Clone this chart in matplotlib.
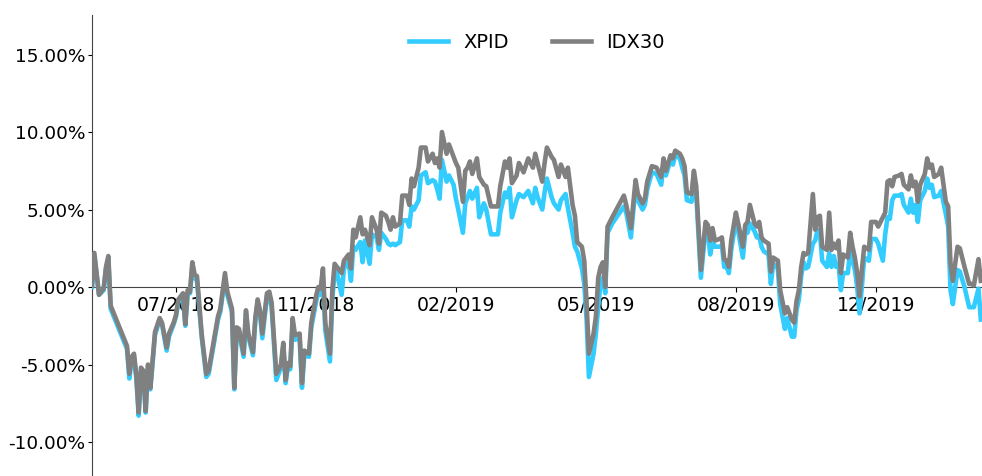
import matplotlib
matplotlib.use("Agg")
import matplotlib.pyplot as plt
from matplotlib.ticker import FuncFormatter

# ---- data (trading-day index, returns in %) ----
days_a = [0, 1, 3, 5, 6, 7, 8, 15, 16, 17, 18, 19, 20, 21, 22, 23, 24, 25, 27, 29, 30, 32, 33, 35, 36, 37,
          39, 40, 41, 42, 43, 44, 45, 47, 49, 50, 54, 55, 57, 58, 60, 61, 62, 63, 65, 66, 67, 69, 70, 71,
          72, 73, 75, 76]
idx_a = [0.1, 2.2, -0.5, -0.1, 1.3, 2.0, -1.2, -3.8, -5.6, -4.5, -4.3, -5.7, -8.1, -5.2, -5.4, -8.0, -5.0,
         -6.5, -2.9, -2.0, -2.3, -3.9, -3.0, -2.3, -1.8, -0.8, -0.4, -2.4, -0.2, -0.3, 1.6, 0.8, 0.7, -3.0,
         -5.6, -5.4, -1.9, -1.4, 0.9, -0.3, -1.4, -6.5, -2.6, -2.7, -4.3, -1.5, -3.0, -4.2, -2.0, -0.8,
         -1.5, -3.0, -0.4, -0.3]
xpid_a = [0.0, 2.0, -0.5, -0.2, 1.2, 1.8, -1.4, -4.0, -5.9, -4.7, -4.5, -5.9, -8.3, -5.4, -5.6, -8.1, -5.2,
          -6.6, -3.1, -2.1, -2.4, -4.1, -3.2, -2.4, -1.9, -1.0, -0.6, -2.5, -0.4, -0.4, 1.3, 0.6, 0.4, -3.2,
          -5.8, -5.6, -2.1, -1.6, 0.6, -0.5, -1.6, -6.6, -2.8, -2.9, -4.5, -1.7, -3.2, -4.4, -2.2, -1.0,
          -1.7, -3.3, -0.6, -0.6]

days_b = [77, 79, 81, 82, 83, 84, 85, 86, 87, 89, 90, 91, 93, 94, 96, 97, 98, 99, 100, 102, 103, 104, 105,
          107, 108, 110, 111, 112, 113, 115, 116, 117, 119, 120, 122, 123, 124, 126, 127, 128, 129, 130, 132]
idx_b = [-1.0, -5.6, -5.0, -3.6, -6.0, -4.9, -5.1, -2.0, -3.1, -3.0, -6.2, -4.1, -4.3, -2.3, -0.6, 0.0,
         -0.1, 1.2, -2.3, -4.3, -0.2, 1.5, 1.3, 0.9, 1.7, 2.1, 1.2, 3.7, 3.2, 4.5, 3.4, 3.7, 2.7, 4.5, 3.7,
         2.8, 4.8, 4.6, 4.2, 3.7, 4.5, 3.9, 4.1]
xpid_b = [-1.3, -6.0, -5.2, -3.8, -6.2, -5.1, -5.3, -2.3, -3.4, -3.3, -6.5, -4.4, -4.5, -2.6, -1.0, -0.3,
          -0.5, 0.6, -2.8, -4.8, -0.8, 1.0, 0.9, -0.5, 1.2, 1.6, 0.4, 2.6, 2.4, 2.9, 1.6, 3.0, 1.5, 3.4,
          3.2, 2.4, 3.5, 3.1, 2.8, 2.7, 2.8, 2.7, 2.9]

days_c = [133, 135, 136, 137, 138, 140, 141, 143, 144, 146, 147, 148, 149, 150, 152, 153, 155, 156, 157,
          159, 160, 161, 162, 163, 165, 166, 168, 169, 171, 174, 175, 177, 178, 179, 180, 182, 183, 185,
          187, 189, 190, 191, 193, 194, 195, 197, 198, 200, 201, 203, 204, 206, 207, 208, 210, 211, 212,
          213, 215, 216, 217, 218, 219, 220, 221, 223, 228]
idx_c = [5.9, 5.9, 5.3, 7.0, 6.5, 7.7, 9.0, 9.0, 8.1, 8.6, 8.0, 8.3, 7.7, 10.0, 8.6, 9.2, 8.4, 8.0, 7.7,
         5.5, 7.5, 7.7, 8.1, 7.3, 8.3, 7.1, 6.6, 6.5, 5.2, 5.2, 6.5, 8.1, 7.7, 8.3, 6.7, 7.2, 8.0, 7.4,
         8.3, 7.7, 8.6, 8.0, 6.8, 8.0, 9.0, 8.4, 8.2, 7.1, 7.9, 7.1, 7.7, 5.3, 4.6, 2.9, 2.6, 1.7, -1.0,
         -4.3, -3.0, -1.9, 0.6, 1.3, 1.6, 0.0, 3.9, 4.5, 5.9]
xpid_c = [4.3, 4.3, 3.9, 5.2, 5.0, 5.6, 7.2, 7.4, 6.7, 6.9, 6.8, 6.3, 5.7, 8.2, 6.8, 7.2, 6.6, 5.7, 5.0,
          3.5, 5.4, 5.8, 6.2, 5.7, 6.4, 4.5, 5.4, 5.0, 3.4, 3.4, 4.8, 6.1, 5.8, 6.4, 4.5, 5.6, 6.0, 5.8,
          6.2, 5.4, 6.4, 5.8, 5.0, 6.1, 7.0, 5.8, 5.4, 5.0, 5.6, 6.0, 5.1, 3.5, 2.6, 2.3, 1.2, 0.2, -2.1,
          -5.8, -4.3, -3.0, -1.3, 0.3, 0.6, -0.4, 3.5, 4.1, 5.2]

days_d = [229, 231, 233, 234, 236, 237, 238, 240, 242, 244, 245, 246, 248, 249, 250, 252, 253, 254, 255,
          257, 258, 259, 261, 263, 264, 265, 266, 267, 269, 270, 271, 272, 273, 274, 276, 277, 279, 280,
          281, 282, 284, 285, 286, 287, 288, 290, 291, 292, 294, 295, 297, 298, 300, 301, 302, 303, 304,
          305]
idx_d = [5.3, 3.8, 6.9, 6.0, 5.4, 5.7, 6.8, 7.8, 7.7, 7.1, 8.3, 7.5, 8.5, 8.3, 8.8, 8.6, 8.3, 7.8, 6.1,
         6.0, 7.5, 6.5, 1.1, 4.2, 4.0, 3.0, 3.8, 3.0, 3.1, 3.2, 1.8, 1.7, 1.3, 3.0, 4.8, 4.1, 2.6, 4.0,
         4.2, 5.3, 4.1, 3.9, 4.2, 3.2, 3.0, 2.8, 1.0, 1.9, 1.7, -0.2, -1.7, -1.3, -2.1, -2.3, -0.9, -0.2,
         1.3, 2.2]
xpid_d = [4.8, 3.2, 6.5, 5.6, 5.0, 5.3, 6.3, 7.4, 7.3, 6.6, 8.0, 7.2, 8.2, 7.9, 8.5, 8.3, 7.7, 7.2, 5.6,
          5.5, 7.3, 6.0, 0.6, 3.8, 3.6, 2.1, 3.0, 2.6, 2.6, 2.7, 1.3, 1.3, 0.9, 2.4, 4.3, 3.6, 1.9, 3.5,
          3.5, 4.1, 3.6, 3.2, 3.3, 2.6, 2.3, 2.1, 0.2, 1.5, 1.2, -1.1, -2.7, -2.0, -3.2, -3.2, -1.5, -0.8,
          0.7, 1.6]

days_e = [306, 307, 309, 310, 311, 312, 313, 315, 316, 317, 318, 319, 320, 321, 322, 324, 325, 326, 327,
          328, 329, 330, 331, 333, 334, 336, 337, 339, 340, 341, 342, 343, 344, 346, 347, 348, 350, 351,
          352, 353, 354, 355, 357, 358, 359, 360, 361, 363, 364, 366, 367, 368, 369, 371, 372, 374, 376,
          377, 378, 380, 381]
idx_e = [2.1, 2.2, 6.0, 3.7, 4.5, 4.6, 2.6, 2.4, 4.8, 2.4, 2.8, 2.5, 3.0, 0.9, 2.1, 1.9, 3.5, 2.6, 1.9,
         0.9, -0.6, 1.1, 2.6, 2.4, 4.2, 4.2, 3.9, 4.5, 4.8, 6.8, 6.9, 6.5, 7.1, 7.2, 7.3, 6.6, 6.3, 7.2,
         6.5, 6.8, 5.5, 6.6, 7.3, 8.3, 7.7, 7.9, 7.1, 7.3, 7.7, 5.5, 5.2, 1.5, 0.4, 2.6, 2.5, 1.3, 0.2,
         0.2, 0.1, 1.8, 0.4]
xpid_e = [1.2, 1.3, 2.8, 3.0, 3.7, 3.5, 1.7, 1.3, 2.2, 1.3, 2.0, 1.3, 1.5, -0.2, 0.9, 0.9, 2.4, 1.7, 1.1,
          0.0, -1.7, 0.0, 1.9, 1.7, 3.1, 3.1, 2.8, 1.7, 3.4, 4.5, 4.4, 5.6, 5.9, 5.9, 6.0, 5.3, 4.8, 5.7,
          4.8, 5.3, 4.2, 5.6, 6.2, 7.0, 6.4, 6.6, 5.8, 5.9, 6.2, 4.7, 3.9, -0.2, -1.1, 1.1, 1.0, 0.0, -1.3,
          -1.3, -1.3, -0.1, -2.1]

tick_days = [36, 96, 156, 216, 276, 336]
tick_labels = ["07/2018", "11/2018", "02/2019", "05/2019", "08/2019", "12/2019"]
y_ticks = [-10, -5, 0, 5, 10, 15]

days = days_a + days_b + days_c + days_d + days_e
xpid = xpid_a + xpid_b + xpid_c + xpid_d + xpid_e
idx30 = idx_a + idx_b + idx_c + idx_d + idx_e

# ---- figure ----
fig = plt.figure(figsize=(9.82, 4.76), dpi=100)
ax = fig.add_axes([92 / 982, 0.0, 890 / 982, 461 / 476])

ax.plot(days, xpid, color="#33ccff", lw=3.3, label="XPID", zorder=3)
ax.plot(days, idx30, color="#808080", lw=3.3, label="IDX30", zorder=3)

ax.set_xlim(0, 381.5)
ax.set_ylim(-12.19, 17.55)

ax.spines["top"].set_visible(False)
ax.spines["right"].set_visible(False)
ax.spines["bottom"].set_position(("data", 0))
ax.spines["bottom"].set_color("#444444")
ax.spines["left"].set_color("#444444")

ax.set_xticks(tick_days)
ax.set_xticklabels(tick_labels)
ax.set_yticks(y_ticks)
ax.yaxis.set_major_formatter(FuncFormatter(lambda v, p: "{:.2f}%".format(v)))
ax.tick_params(axis="x", labelsize=13.6, pad=3)
ax.tick_params(axis="y", labelsize=13.3, length=3, pad=2)

ax.legend(loc="upper center", ncol=2, frameon=False, fontsize=14, handlelength=2.0,
          columnspacing=2.2)

fig.savefig("out.png", dpi=100)
